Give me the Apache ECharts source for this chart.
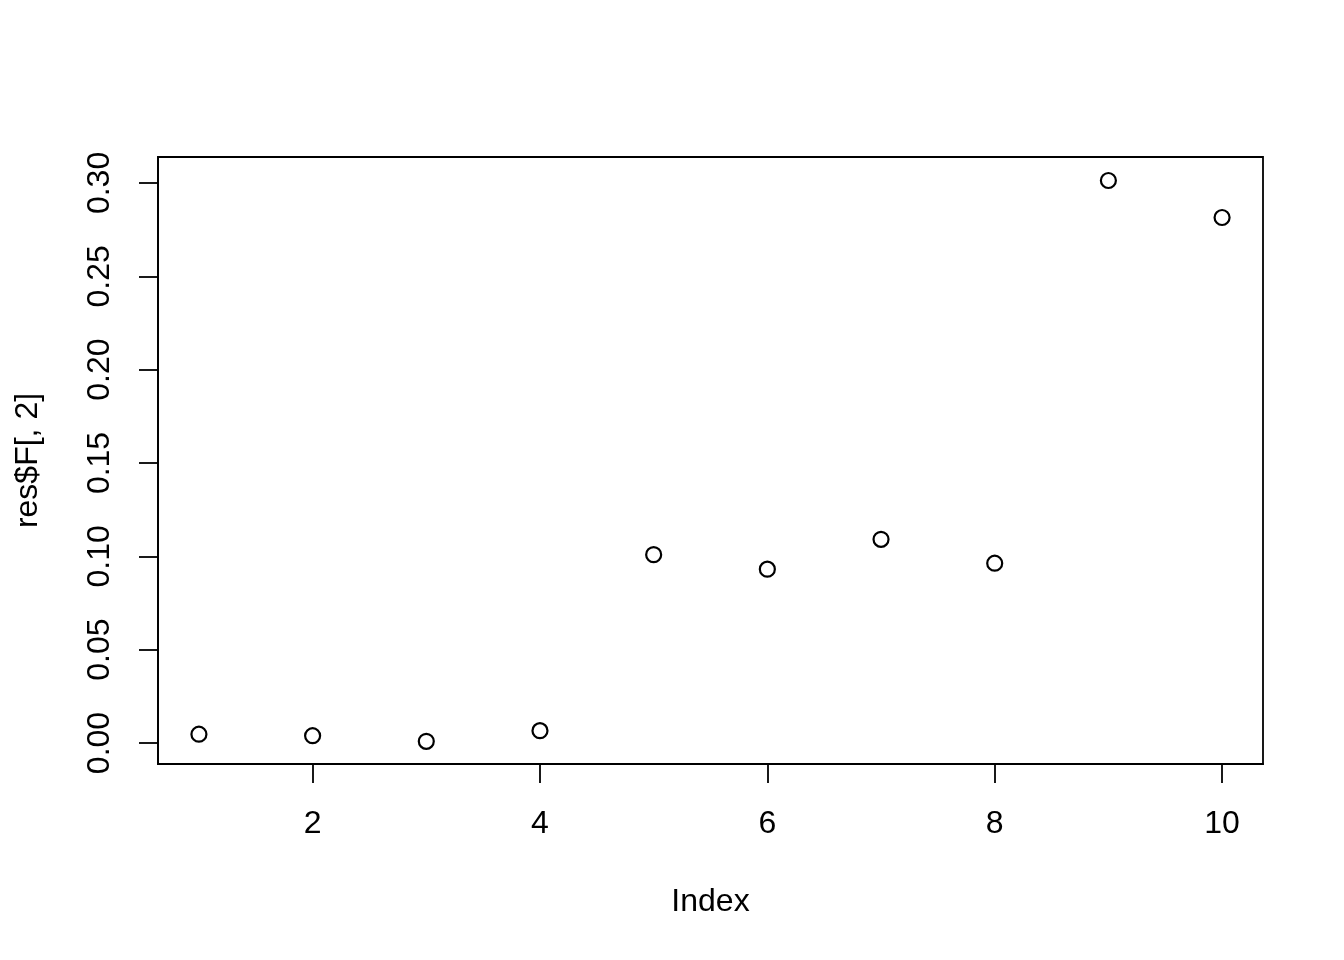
<!DOCTYPE html>
<html>
<head>
<meta charset="utf-8">
<script src="https://cdn.jsdelivr.net/npm/echarts@6/dist/echarts.min.js"></script>
<style>html,body{margin:0;padding:0;background:#fff;}#c{width:1344px;height:960px;}</style>
</head>
<body>
<div id="c"></div>
<script>
const indexValues = [1, 2, 3, 4, 5, 6, 7, 8, 9, 10];
const fValues = [0.0047, 0.0039, 0.0009, 0.0066, 0.1009, 0.0931, 0.1091, 0.0963, 0.3013, 0.2815];
const xTicks = [2, 4, 6, 8, 10];
const yTicks = [0, 0.05, 0.10, 0.15, 0.20, 0.25, 0.30];
const xTitle = 'Index';
const yTitle = 'res$F[, 2]';

const FONT = 'Liberation Sans, Arial, Helvetica, sans-serif';
const chart = echarts.init(document.getElementById('c'), null, {renderer: 'canvas'});
chart.setOption({
  animation: false,
  backgroundColor: '#fff',
  grid: {left: 158, right: 81, top: 157, bottom: 196, show: true, borderColor: '#000', borderWidth: 1.8, backgroundColor: 'transparent'},
  xAxis: {
    type: 'value', min: 0.64, max: 10.36,
    name: xTitle, nameLocation: 'middle', nameGap: 122,
    nameTextStyle: {color: '#000', fontSize: 32, fontFamily: FONT},
    axisLine: {show: true, onZero: false, lineStyle: {color: '#000', width: 1.8}},
    axisTick: {show: true, customValues: xTicks, length: 19, lineStyle: {color: '#000', width: 1.8}},
    axisLabel: {show: true, customValues: xTicks, margin: 44, color: '#000', fontSize: 32, fontFamily: FONT},
    splitLine: {show: false}
  },
  yAxis: {
    type: 'value', min: -0.01125, max: 0.3139,
    name: yTitle, nameLocation: 'middle', nameGap: 114, nameRotate: 90,
    nameTextStyle: {color: '#000', fontSize: 32, fontFamily: FONT},
    axisLine: {show: true, onZero: false, lineStyle: {color: '#000', width: 1.8}},
    axisTick: {show: true, customValues: yTicks, length: 19, lineStyle: {color: '#000', width: 1.8}},
    axisLabel: {show: true, customValues: yTicks, rotate: 90, margin: 42, color: '#000', fontSize: 32, fontFamily: FONT,
      formatter: v => v.toFixed(2)},
    splitLine: {show: false}
  },
  series: [{
    type: 'scatter',
    data: indexValues.map((x, i) => [x, fValues[i]]),
    symbol: 'circle', symbolSize: 15,
    itemStyle: {color: 'transparent', borderColor: '#000', borderWidth: 2.2, opacity: 1}
  }]
});
</script>
</body>
</html>
